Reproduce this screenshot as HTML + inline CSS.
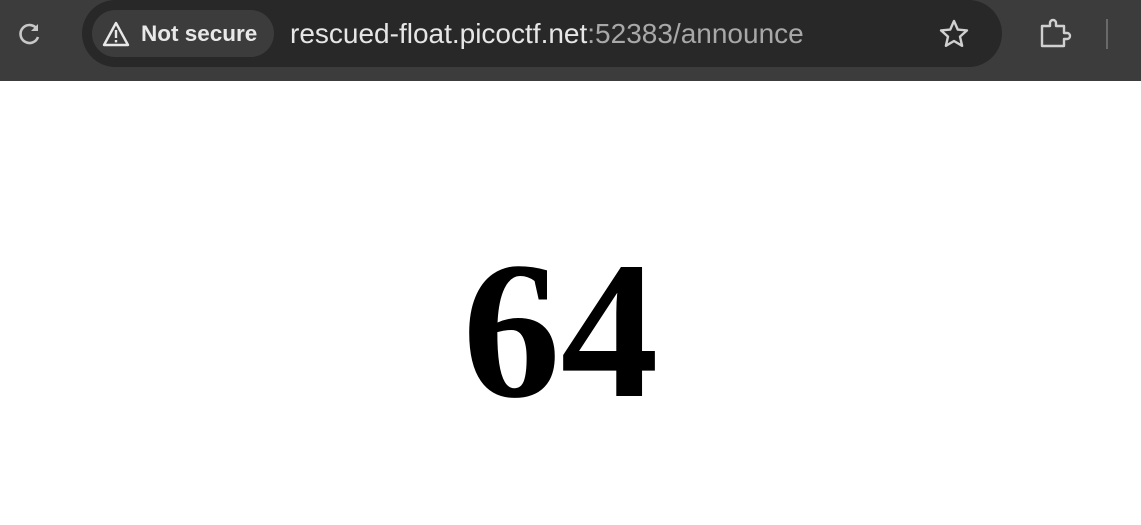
<!DOCTYPE html>
<html><head><meta charset="utf-8"><style>
html,body{margin:0;padding:0;width:1141px;height:525px;overflow:hidden;background:#fff;font-family:"Liberation Sans",sans-serif}
#bar{position:absolute;left:0;top:0;width:1141px;height:81px;background:#3c3c3c}
#omni{position:absolute;left:82px;top:0;width:920px;height:67px;background:#282828;border-radius:34px}
#chip{position:absolute;left:92px;top:10px;width:182px;height:47px;background:#3c3c3c;border-radius:24px}
#chip span{position:absolute;left:49px;top:11px;color:#e8e8e8;font-weight:bold;font-size:22.5px}
#url{position:absolute;left:290px;top:18px;color:#e6e6e6;font-size:28px;white-space:nowrap}
#url .dim{color:#a8a8a8}
#big{position:absolute;left:0;top:233px;width:1141px;text-align:center;font-family:"Liberation Serif",serif;font-weight:bold;font-size:196px;line-height:196px;color:#000;padding-right:20px;box-sizing:border-box}
</style></head><body>
<div id="bar">
 <svg style="position:absolute;left:17px;top:21px" width="26" height="26" viewBox="0 0 26 26"><path d="M20 8 A9 9 0 1 0 21 16" fill="none" stroke="#c8c8c8" stroke-width="2.6"/><path d="M21 3 L21 10 L14 10 Z" fill="#c8c8c8"/></svg>
 <div id="omni"></div>
 <div id="chip">
  <svg style="position:absolute;left:10px;top:11px" width="28" height="26" viewBox="0 0 28 26"><path d="M14 2 L26 24 L2 24 Z" fill="none" stroke="#e8e8e8" stroke-width="2.4" stroke-linejoin="round"/><rect x="12.8" y="9" width="2.4" height="8" fill="#e8e8e8"/><rect x="12.8" y="19" width="2.4" height="2.4" fill="#e8e8e8"/></svg>
  <span>Not secure</span>
 </div>
 <div id="url">rescued-float.picoctf.net<span class="dim">:52383/announce</span></div>
 <svg style="position:absolute;left:938px;top:18px" width="32" height="32" viewBox="0 0 32 32"><path d="M16 3 L19.8 11.6 L29 12.4 L22 18.6 L24.1 27.8 L16 23 L7.9 27.8 L10 18.6 L3 12.4 L12.2 11.6 Z" fill="none" stroke="#d0d0d0" stroke-width="2.4" stroke-linejoin="round"/></svg>
 <svg style="position:absolute;left:1038px;top:18px" width="34" height="32" viewBox="0 0 34 32"><path d="M4 8 H12 V5 A3 3 0 0 1 18 5 V8 H26 V15 H29 A3 3 0 0 1 29 21 H26 V28 H4 Z" fill="none" stroke="#d0d0d0" stroke-width="2.4" stroke-linejoin="round"/></svg>
 <div style="position:absolute;left:1106px;top:19px;width:2px;height:30px;background:#6a6a6a"></div>
</div>
<div id="big">64</div>
</body></html>
